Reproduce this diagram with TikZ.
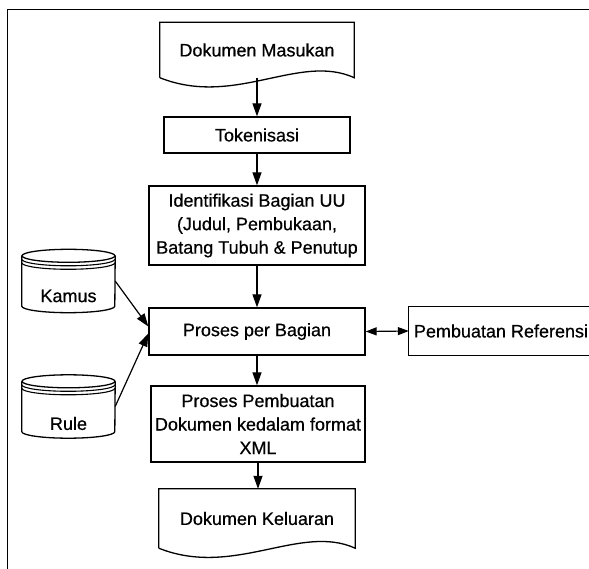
\documentclass[tikz,border=0pt]{standalone}
\usepackage{fontspec}
\setmainfont{Liberation Sans}[FakeBold=0.6]
\usetikzlibrary{arrows.meta}

\tikzset{
  txt/.style={font=\fontsize{18}{23.5}\selectfont, align=center, inner sep=0pt},
  procbox/.style={txt, draw, line width=1.3pt, rectangle},
  docbox/.style={txt, rectangle, minimum width=194, minimum height=55},
  dbbox/.style={rectangle, inner sep=0pt, minimum width=93, minimum height=63},
  flow/.style={line width=1.2pt, -{Triangle[length=13pt,width=9pt]}},
  bothflow/.style={line width=1.2pt, {Triangle[length=11pt,width=8pt]}-{Triangle[length=11pt,width=8pt]}}
}

% Outline of a document symbol (wavy bottom)
\newcommand{\docoutline}[1]{%
  \draw [line width=1.3pt] (#1.south west) -- (#1.north west) -- (#1.north east) -- (#1.south east)
    .. controls +(-55,-25) and +(75,30) .. (#1.south west);%
}

% Outline of a data store (stacked disks)
\newcommand{\dboutline}[1]{%
  \draw [line width=1.3pt] ([yshift=-6.5pt]#1.north) ellipse [x radius=46.5pt, y radius=6.5pt];%
  \draw [line width=1.1pt] ([yshift=-10pt]#1.north west) arc [start angle=180, end angle=360, x radius=46.5pt, y radius=6.5pt];%
  \draw [line width=1.1pt] ([yshift=-13.5pt]#1.north west) arc [start angle=180, end angle=360, x radius=46.5pt, y radius=6.5pt];%
  \draw [line width=1.3pt] ([yshift=-6.5pt]#1.north west) -- ([yshift=6.5pt]#1.south west)
    arc [start angle=180, end angle=360, x radius=46.5pt, y radius=6.5pt] -- ([yshift=-6.5pt]#1.north east);%
}

\begin{document}
\begin{tikzpicture}[x=1pt, y=-1pt]
  \useasboundingbox (0,0) rectangle (589,569);

  % Drawing frame
  \draw [line width=1pt] (7,569) -- (7,10) -- (589,10);%

  % Drawing documents
  \node [docbox] (masukan) at (257,50) {Dokumen Masukan};%
  \docoutline{masukan}
  \node [docbox, minimum width=196, minimum height=59] (keluaran) at (257,518.5) {Dokumen Keluaran};%
  \docoutline{keluaran}

  % Drawing process boxes
  \node [procbox, minimum width=186, minimum height=36] (token) at (257,135) {Tokenisasi};%
  \node [procbox, minimum width=216, minimum height=79] (ident) at (257,225.5)
    {Identifikasi Bagian UU\\(Judul, Pembukaan,\\Batang Tubuh \& Penutup};%
  \node [procbox, minimum width=216, minimum height=47] (proses) at (257,331.5) {Proses per Bagian};%
  \node [procbox, minimum width=214, minimum height=76] (pembuatan) at (258,424)
    {Proses Pembuatan\\Dokumen kedalam format\\XML};%

  % Drawing reference box (open at the right edge)
  \node [txt, minimum width=184, minimum height=48] (referensi) at (501,331) {Pembuatan Referensi};%
  \draw [line width=1.3pt] (referensi.north east) -- (referensi.north west) -- (referensi.south west) -- (referensi.south east);%

  % Drawing data stores
  \node [dbbox, label={[txt, yshift=-15pt]center:Kamus}] (kamus) at (68.5,281) {};%
  \dboutline{kamus}
  \node [dbbox, label={[txt, yshift=-17pt]center:Rule}] (rule) at (68.5,406.5) {};%
  \dboutline{rule}

  % Drawing connectors
  \draw [flow] (masukan) -- (token);%
  \draw [flow] (token) -- (ident);%
  \draw [flow] (ident) -- (proses);%
  \draw [flow] (proses.south) -- (proses.south |- pembuatan.north);%
  \draw [flow] (pembuatan.south) -- (pembuatan.south |- keluaran.north);%
  \draw [bothflow] (proses.east) -- (referensi.west);%
  \draw [flow] (kamus.east) -- ([yshift=5pt]proses.west);%
  \draw [flow] (rule.east) -- ([yshift=-2pt]proses.west);%
\end{tikzpicture}
\end{document}
